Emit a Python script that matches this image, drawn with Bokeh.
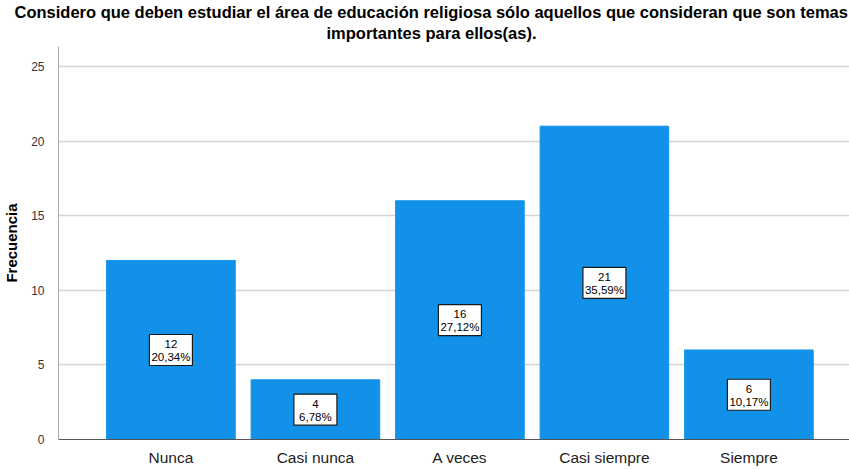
from bokeh.plotting import figure
from bokeh.models import Range1d, FixedTicker, ColumnDataSource, Title
from bokeh.core.properties import value
from bokeh.embed import file_html
from bokeh.resources import INLINE

categories = ["Nunca", "Casi nunca", "A veces", "Casi siempre", "Siempre"]
counts = [12, 4, 16, 21, 6]
percents = ["20,34%", "6,78%", "27,12%", "35,59%", "10,17%"]
y_ticks = [0, 5, 10, 15, 20, 25]
title_lines = ["Considero que deben estudiar el área de educación religiosa sólo aquellos que consideran que son temas",
               "importantes para ellos(as)."]

xs = list(range(len(categories)))
src = ColumnDataSource(dict(
    x=xs, top=counts, mid=[c / 2 for c in counts],
    cnt=[str(c) for c in counts], pct=percents,
))

FONT = "Liberation Sans"

p = figure(frame_width=791, frame_height=393, output_backend="svg", toolbar_location=None,
           x_range=Range1d(-0.778, 4.696), y_range=Range1d(0, 26.34),
           min_border_left=50, min_border_right=0, min_border_top=0, min_border_bottom=0)
p.title = None
# second line first (closest to the plot), then first line above it
p.add_layout(Title(text=title_lines[1], align="left", offset=268, text_font=FONT,
                   text_font_size="16.5px", text_font_style="bold", text_color="#000000",
                   standoff=9), "above")
p.add_layout(Title(text=title_lines[0], align="left", offset=-44, text_font=FONT,
                   text_font_size="16.5px", text_font_style="bold", text_color="#000000",
                   standoff=-7), "above")
p.add_layout(Title(text=" ", align="left", text_font=FONT, text_font_size="1px",
                   standoff=1), "above")

p.outline_line_color = None
p.background_fill_color = "white"

p.vbar(x="x", top="top", width=0.89, bottom=0, source=src,
       fill_color="#1192e8", line_color="#1192e8")

p.rect(x="x", y="mid", width=43, height=31, width_units="screen", height_units="screen",
       source=src, fill_color="white", line_color="#1a1a1a", line_width=1.2)
p.text(x="x", y="mid", text="cnt", source=src, y_offset=-6,
       text_align="center", text_baseline="middle",
       text_font=value(FONT), text_font_size="11.5px", text_color="#000000")
p.text(x="x", y="mid", text="pct", source=src, y_offset=7,
       text_align="center", text_baseline="middle",
       text_font=value(FONT), text_font_size="11.5px", text_color="#000000")

p.xaxis.ticker = FixedTicker(ticks=xs)
p.xaxis.major_label_overrides = {i: c for i, c in enumerate(categories)}
p.xaxis.major_label_text_font = FONT
p.xaxis.major_label_text_font_size = "15.5px"
p.xaxis.major_label_text_color = "#222222"
p.xaxis.major_tick_line_color = None
p.xaxis.minor_tick_line_color = None
p.xaxis.axis_line_color = "#555555"
p.xaxis.major_label_standoff = 3

p.yaxis.ticker = FixedTicker(ticks=y_ticks)
p.yaxis.major_label_text_font = FONT
p.yaxis.major_label_text_font_size = "12px"
p.yaxis.major_label_text_color = "#333333"
p.yaxis.major_tick_line_color = None
p.yaxis.minor_tick_line_color = None
p.yaxis.axis_line_color = "#aaaaaa"
p.yaxis.major_label_standoff = 8
p.yaxis.axis_label = "Frecuencia"
p.yaxis.axis_label_text_font = FONT
p.yaxis.axis_label_text_font_size = "15px"
p.yaxis.axis_label_text_font_style = "bold"
p.yaxis.axis_label_text_color = "#000000"
p.yaxis.axis_label_standoff = 8

p.xgrid.grid_line_color = None
p.ygrid.ticker = FixedTicker(ticks=y_ticks)
p.ygrid.grid_line_color = "#d4d4d4"
p.ygrid.grid_line_width = 1.5

open("out.html", "w").write(file_html(p, INLINE))
